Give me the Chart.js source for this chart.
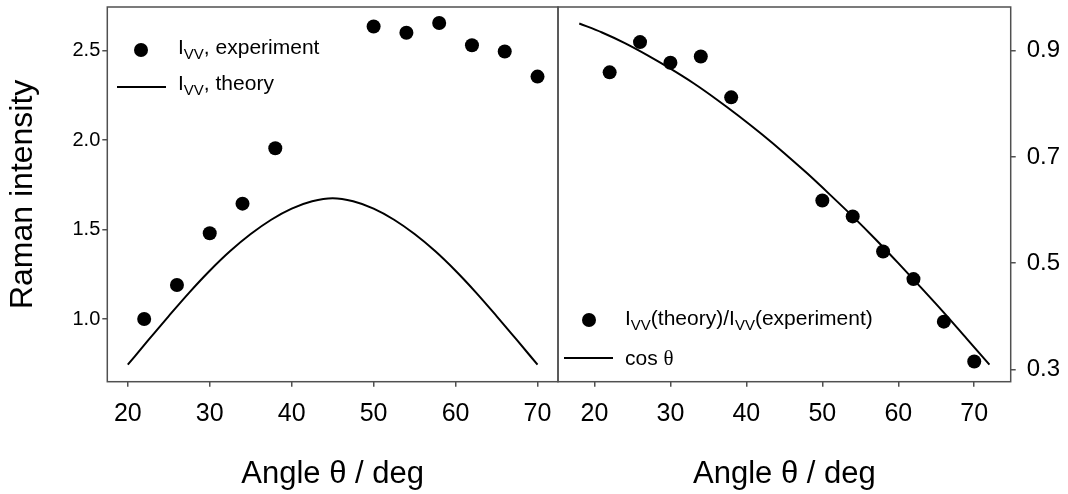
<!DOCTYPE html>
<html>
<head>
<meta charset="utf-8">
<script src="https://cdn.jsdelivr.net/npm/chart.js@4"></script>
<style>
    body { margin: 0; background: #fff; }
    #wrap { position: relative; width: 1068px; height: 494px; background: #fff; overflow: hidden; }
    canvas { position: absolute; top: 0; }
    #leftChart { left: 0; }
    #rightChart { left: 556px; }
    .leg-text { position: absolute; font-family: 'Liberation Sans', Arial, sans-serif; font-size: 21px; line-height: 21px; color: #000; white-space: nowrap; }
    .leg-text .sub { font-size: 15px; position: relative; top: 5px; }
    .leg-text .theta { font-family: 'Liberation Serif', serif; }
    .leg-dot { position: absolute; width: 14px; height: 14px; border-radius: 50%; background: #000; }
    .leg-line { position: absolute; width: 49px; height: 2px; background: #000; }
</style>
</head>
<body>
<div id="wrap">
    <canvas id="leftChart" width="560" height="494"></canvas>
    <canvas id="rightChart" width="512" height="494"></canvas>

    <!-- legend, left panel -->
    <div class="leg-dot" style="left:134px; top:43px;"></div>
    <div class="leg-text" style="left:178px; top:36px;">I<span class="sub">VV</span>, experiment</div>
    <div class="leg-line" style="left:117px; top:86px;"></div>
    <div class="leg-text" style="left:178px; top:72px;">I<span class="sub">VV</span>, theory</div>

    <!-- legend, right panel -->
    <div class="leg-dot" style="left:582px; top:313px;"></div>
    <div class="leg-text" style="left:625px; top:307px;">I<span class="sub">VV</span>(theory)/I<span class="sub">VV</span>(experiment)</div>
    <div class="leg-line" style="left:564px; top:357px;"></div>
    <div class="leg-text" style="left:625px; top:347px;">cos <span class="theta">θ</span></div>
</div>

<script>
// measured angles (deg)
const angles = [22, 26, 30, 34, 38, 50, 54, 58, 62, 66, 70];
const ivvExperiment = [1.00, 1.19, 1.48, 1.645, 1.955, 2.635, 2.60, 2.655, 2.53, 2.495, 2.355];
const intensityRatio = [0.859, 0.916, 0.877, 0.889, 0.812, 0.618, 0.588, 0.522, 0.470, 0.390, 0.315];

// theory curve
const theoryAngles = [20, 22.5, 25, 27.5, 30, 32.5, 35, 37.5, 40, 42.5, 45, 47.5, 50, 52.5, 55, 57.5, 60, 62.5, 65, 67.5, 70];
const ivvTheory = [0.745, 0.882, 1.017, 1.148, 1.27, 1.38, 1.475, 1.555, 1.617, 1.658, 1.675, 1.658, 1.617, 1.555, 1.475, 1.38, 1.27, 1.148, 1.017, 0.882, 0.745];

// cos theta curve
const cosAngles = [18, 21, 24, 27, 30, 33, 36, 39, 42, 45, 48, 51, 54, 57, 60, 63, 66, 69, 72];
const cosValues = [0.951, 0.934, 0.914, 0.891, 0.866, 0.839, 0.809, 0.777, 0.743, 0.707, 0.669, 0.629, 0.588, 0.545, 0.500, 0.454, 0.407, 0.358, 0.309];

// tick labels
const angleTicks = [20, 30, 40, 50, 60, 70];
const intensityTicks = [1.0, 1.5, 2.0, 2.5];
const ratioTicks = [0.3, 0.5, 0.7, 0.9];

const FONT = "'Liberation Sans', Arial, sans-serif";
const AXIS_COLOR = '#505050';

function toPoints(xs, ys) {
    return xs.map((x, i) => ({ x: x, y: ys[i] }));
}

// fixed axis size, no extra label padding so the plot area stays put
function fixSize(size) {
    return function (s) {
        if (s.isHorizontal()) s.height = size; else s.width = size;
        s.paddingTop = 0;
        s.paddingBottom = 0;
        s.paddingLeft = 0;
        s.paddingRight = 0;
    };
}

// frame around the plot area
const boxPlugin = {
    id: 'box',
    beforeDatasetsDraw(chart) {
        const { ctx, chartArea: a } = chart;
        ctx.save();
        ctx.strokeStyle = AXIS_COLOR;
        ctx.lineWidth = 1.5;
        ctx.strokeRect(a.left, a.top, a.right - a.left, a.bottom - a.top);
        ctx.restore();
    }
};

function angleAxis(min, max) {
    return {
        type: 'linear',
        position: 'bottom',
        min: min,
        max: max,
        afterBuildTicks: s => { s.ticks = angleTicks.map(v => ({ value: v })); },
        afterFit: fixSize(112.3),
        border: { display: false },
        grid: { drawOnChartArea: false, drawTicks: true, tickLength: 5, color: AXIS_COLOR, lineWidth: 1.5 },
        ticks: { color: '#000', font: { family: FONT, size: 25 }, padding: 12, maxRotation: 0 },
        title: { display: true, text: 'Angle θ / deg', color: '#000', font: { family: FONT, size: 31 }, padding: { top: 0, bottom: 1 } }
    };
}

function initLeftChart() {
    const ctx = document.getElementById('leftChart');
    new Chart(ctx, {
        type: 'scatter',
        data: {
            datasets: [
                {
                    label: 'IVV, experiment',
                    data: toPoints(angles, ivvExperiment),
                    pointRadius: 7,
                    backgroundColor: '#000',
                    borderWidth: 0
                },
                {
                    label: 'IVV, theory',
                    data: toPoints(theoryAngles, ivvTheory),
                    showLine: true,
                    borderColor: '#000',
                    borderWidth: 2,
                    pointRadius: 0,
                    cubicInterpolationMode: 'monotone'
                }
            ]
        },
        options: {
            responsive: false,
            animation: false,
            layout: { autoPadding: false, padding: { top: 7, right: 2, left: 0, bottom: 0 } },
            plugins: { legend: { display: false }, tooltip: { enabled: false } },
            scales: {
                x: angleAxis(17.5, 72.5),
                y: {
                    type: 'linear',
                    position: 'left',
                    min: 0.65,
                    max: 2.744,
                    afterBuildTicks: s => { s.ticks = intensityTicks.map(v => ({ value: v })); },
                    afterFit: fixSize(107.3),
                    border: { display: false },
                    grid: { drawOnChartArea: false, drawTicks: true, tickLength: 5, color: AXIS_COLOR, lineWidth: 1.5 },
                    ticks: { color: '#000', font: { family: FONT, size: 20 }, padding: 2, callback: v => v.toFixed(1) },
                    title: { display: true, text: 'Raman intensity', color: '#000', font: { family: FONT, size: 32 }, padding: { top: 4, bottom: 0 } }
                }
            }
        },
        plugins: [boxPlugin]
    });
}

function initRightChart() {
    const ctx = document.getElementById('rightChart');
    new Chart(ctx, {
        type: 'scatter',
        data: {
            datasets: [
                {
                    label: 'IVV(theory)/IVV(experiment)',
                    data: toPoints(angles, intensityRatio),
                    pointRadius: 7,
                    backgroundColor: '#000',
                    borderWidth: 0
                },
                {
                    label: 'cos θ',
                    data: toPoints(cosAngles, cosValues),
                    showLine: true,
                    borderColor: '#000',
                    borderWidth: 2,
                    pointRadius: 0,
                    cubicInterpolationMode: 'monotone'
                }
            ]
        },
        options: {
            responsive: false,
            animation: false,
            layout: { autoPadding: false, padding: { top: 7, right: 0, left: 2, bottom: 0 } },
            plugins: { legend: { display: false }, tooltip: { enabled: false } },
            scales: {
                x: angleAxis(15.2, 74.8),
                y: {
                    type: 'linear',
                    position: 'right',
                    min: 0.277,
                    max: 0.982,
                    afterBuildTicks: s => { s.ticks = ratioTicks.map(v => ({ value: v })); },
                    afterFit: fixSize(57.3),
                    border: { display: false },
                    grid: { drawOnChartArea: false, drawTicks: true, tickLength: 5, color: AXIS_COLOR, lineWidth: 1.5 },
                    ticks: { color: '#000', font: { family: FONT, size: 24 }, padding: 11, callback: v => v.toFixed(1) }
                }
            }
        },
        plugins: [boxPlugin]
    });
}

document.addEventListener('DOMContentLoaded', function () {
    initLeftChart();
    initRightChart();
});
</script>
</body>
</html>
